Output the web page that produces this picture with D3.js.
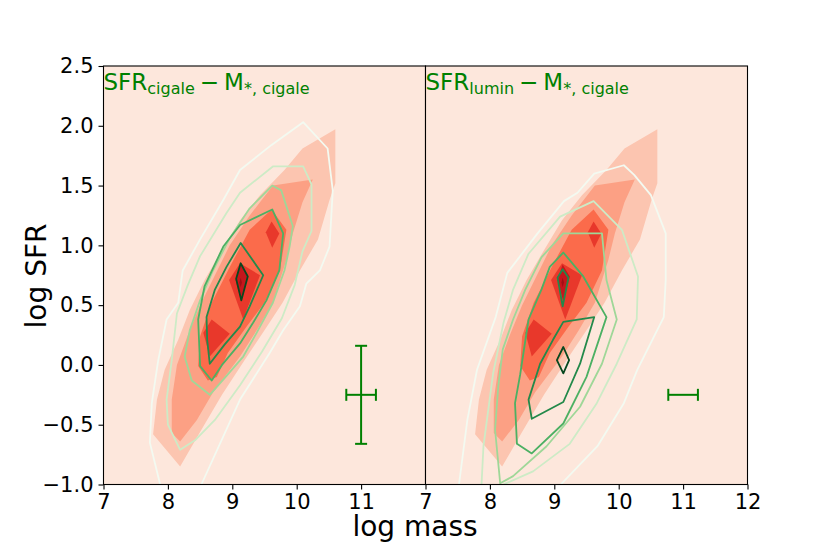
<!DOCTYPE html>
<html>
<head>
<meta charset="utf-8">
<script src="https://cdn.jsdelivr.net/npm/d3@7"></script>
<style>
  body { margin: 0; background: #fff; }
  text { font-family: "DejaVu Sans", sans-serif; }
</style>
</head>
<body>
<div id="chart"></div>
<script>
// Shared filled density (Reds), points are [log mass, log SFR]
var redL1 = [[10.60,1.97],[10.60,1.52],[10.51,1.38],[10.33,1.05],[10.05,0.79],[9.78,0.52],[9.50,0.29],[9.19,0.04],[8.84,-0.25],[8.50,-0.56],[8.19,-0.85],[7.77,-0.58],[7.83,-0.29],[7.95,-0.04],[8.16,0.21],[8.34,0.46],[8.57,0.71],[8.84,0.96],[9.12,1.21],[9.43,1.42],[9.81,1.63],[10.09,1.81]];
var redL2 = [[9.63,1.50],[10.25,1.55],[10.09,1.36],[9.94,1.10],[9.84,0.88],[9.63,0.52],[9.38,0.29],[9.12,0.07],[8.70,-0.23],[8.45,-0.46],[8.19,-0.64],[8.06,-0.57],[8.06,-0.29],[8.14,0.00],[8.31,0.25],[8.50,0.50],[8.73,0.75],[8.96,1.00],[9.27,1.25]];
var redL3 = [[9.61,1.30],[9.84,1.13],[9.74,0.79],[9.50,0.52],[9.22,0.32],[8.93,0.10],[8.76,-0.10],[8.62,-0.13],[8.47,-0.01],[8.50,0.24],[8.68,0.52],[8.96,0.82],[9.27,1.13]];
var redL4a = [[9.61,1.20],[9.73,1.10],[9.62,0.98],[9.52,1.11]];
var redL4b = [[8.95,0.71],[9.12,0.85],[9.43,0.75],[9.17,0.38]];
var redL4c = [[8.55,0.27],[8.68,0.38],[8.96,0.26],[8.65,0.07]];
var redL5 = [[9.05,0.71],[9.13,0.84],[9.24,0.74],[9.14,0.53]];
var redL6 = [[9.11,0.69],[9.13,0.73],[9.15,0.69],[9.13,0.65]];

// SFR cigale contours (Greens)
var cigG0 = [[7.88,-1.0],[7.72,-0.65],[7.75,-0.32],[7.85,0.04],[7.98,0.38],[8.16,0.52],[8.23,0.79],[8.50,1.05],[8.86,1.38],[9.12,1.63],[9.61,1.84],[10.10,2.03],[10.48,1.81],[10.56,1.46],[10.51,0.99],[10.36,0.79],[10.15,0.68],[10.05,0.49],[9.79,0.29],[9.58,0.10],[9.12,-0.29],[8.52,-1.0]];
var cigG1 = [[9.63,1.66],[10.10,1.66],[10.23,1.51],[10.23,1.12],[10.09,0.95],[9.97,0.67],[9.77,0.39],[9.46,0.11],[9.12,-0.17],[8.73,-0.46],[8.42,-0.63],[8.19,-0.71],[8.00,-0.50],[7.98,-0.29],[8.06,0.04],[8.14,0.43],[8.31,0.67],[8.50,0.91],[8.91,1.27],[9.12,1.44]];
var cigG2 = [[9.62,1.50],[9.76,1.46],[9.94,1.16],[9.89,0.99],[9.81,0.79],[9.63,0.52],[9.38,0.27],[9.17,0.07],[8.88,-0.11],[8.65,-0.25],[8.37,-0.13],[8.26,0.07],[8.34,0.29],[8.50,0.54],[8.70,0.79],[8.96,1.06],[9.27,1.31]];
var cigG3 = [[9.62,1.30],[9.79,1.10],[9.73,0.79],[9.53,0.54],[9.32,0.35],[9.12,0.18],[8.84,0.00],[8.68,-0.13],[8.50,-0.01],[8.47,0.38],[8.57,0.66],[8.86,0.99],[9.12,1.17]];
var cigG4 = [[9.13,1.02],[9.48,0.75],[9.27,0.49],[9.12,0.32],[8.88,0.17],[8.65,0.01],[8.61,0.21],[8.60,0.40],[8.73,0.63],[8.91,0.82]];
var cigG5 = [[9.13,0.85],[9.24,0.74],[9.14,0.54],[9.06,0.72]];

// SFR lumin contours (Greens)
var lumG0 = [[7.52,-1.0],[7.65,-0.46],[7.80,-0.04],[8.09,0.40],[8.27,0.77],[8.74,1.10],[9.15,1.37],[9.36,1.44],[9.62,1.60],[10.08,1.67],[10.24,1.59],[10.50,1.42],[10.73,1.10],[10.73,0.71],[10.70,0.40],[10.29,-0.04],[10.08,-0.32],[9.67,-0.68],[9.10,-1.0]];
var lumG1 = [[7.87,-1.0],[7.90,-0.68],[8.05,-0.07],[8.21,0.35],[8.36,0.63],[8.60,0.93],[9.09,1.24],[9.61,1.37],[10.05,1.13],[10.30,0.74],[10.28,0.38],[9.97,0.01],[9.66,-0.32],[9.24,-0.66],[8.67,-0.89],[8.21,-1.0]];
var lumG2 = [[9.14,1.10],[9.74,1.10],[9.81,0.71],[9.97,0.38],[9.74,0.01],[9.40,-0.35],[8.88,-0.68],[8.36,-0.93],[8.16,-0.99],[8.08,-0.54],[8.13,-0.18],[8.20,0.13],[8.36,0.38],[8.55,0.63],[8.80,0.90]];
var lumG3 = [[9.14,0.94],[9.45,0.74],[9.81,0.40],[9.50,-0.10],[9.14,-0.49],[8.65,-0.74],[8.42,-0.66],[8.39,-0.32],[8.47,-0.08],[8.60,0.38],[8.80,0.63],[8.93,0.82]];
var lumG4a = [[9.13,0.80],[9.22,0.73],[9.13,0.49],[9.05,0.73]];
var lumG4b = [[9.14,0.36],[9.62,0.40],[9.40,0.01],[9.14,-0.31],[8.65,-0.45],[8.60,-0.29],[8.78,0.01],[8.98,0.21]];
var lumG5 = [[9.14,0.15],[9.23,0.04],[9.14,-0.07],[9.04,0.04]];

// typical error bars [x, y, xerr, yerr]
var errCigale = [11.0, -0.25, 0.23, 0.41];
var errLumin = [11.0, -0.25, 0.23, 0.0];

var yTicks = [-1.0, -0.5, 0.0, 0.5, 1.0, 1.5, 2.0, 2.5];
var xTicksLeft = [7, 8, 9, 10, 11];
var xTicksRight = [7, 8, 9, 10, 11, 12];

// colours of the levels
var redColors = ["#fde7dc", "#fcc5b0", "#fca084", "#fb6b4b", "#e8382b", "#c5161c", "#a00f15"];
var greenColors = ["#f3faf1", "#cdebc6", "#9fd798", "#4cb063", "#23894a", "#07481f"];

// SVG area
var svgWidth = 830;
var svgHeight = 554;
var margin = { top: 66, left: 103.5 };
var panelWidth = 322;
var panelHeight = 418.5;

var svg = d3.select("#chart")
  .append("svg")
  .attr("width", svgWidth)
  .attr("height", svgHeight);

var xScale = d3.scaleLinear().domain([7, 12]).range([0, panelWidth]);
var yScale = d3.scaleLinear().domain([-1, 2.5]).range([panelHeight, 0]);

var lineGen = d3.line()
  .x(d => xScale(d[0]))
  .y(d => yScale(d[1]));

var reds = [[redL1, 1], [redL2, 2], [redL3, 3], [redL4a, 4], [redL4b, 4], [redL4c, 4], [redL5, 5], [redL6, 6]];

var panels = [
  { id: "cigale", left: margin.left, sub: "cigale", xTicks: xTicksLeft, showY: true, err: errCigale,
    greens: [[cigG0, 0, false], [cigG1, 1, true], [cigG2, 2, true], [cigG3, 3, true], [cigG4, 4, true], [cigG5, 5, true]] },
  { id: "lumin", left: margin.left + panelWidth, sub: "lumin", xTicks: xTicksRight, showY: false, err: errLumin,
    greens: [[lumG0, 0, false], [lumG1, 1, false], [lumG2, 2, true], [lumG3, 3, true], [lumG4a, 4, true], [lumG4b, 4, true], [lumG5, 5, true]] }
];

panels.forEach(function(p) {
  var g = svg.append("g").attr("transform", `translate(${p.left}, ${margin.top})`);

  g.append("clipPath").attr("id", "clip-" + p.id)
    .append("rect").attr("width", panelWidth).attr("height", panelHeight);

  var plot = g.append("g").attr("clip-path", `url(#clip-${p.id})`);

  // lowest filled level covers the whole panel
  plot.append("rect")
    .attr("width", panelWidth)
    .attr("height", panelHeight)
    .attr("fill", redColors[0]);

  plot.selectAll("path.red")
    .data(reds)
    .enter()
    .append("path")
    .attr("class", "red")
    .attr("d", d => lineGen(d[0]) + "Z")
    .attr("fill", d => redColors[d[1]]);

  plot.selectAll("path.green")
    .data(p.greens)
    .enter()
    .append("path")
    .attr("class", "green")
    .attr("d", d => lineGen(d[0]) + (d[2] ? "Z" : ""))
    .attr("fill", "none")
    .attr("stroke", d => greenColors[d[1]])
    .attr("stroke-width", 1.8)
    .attr("stroke-linejoin", "round");

  // error bar
  var e = p.err;
  var eb = g.append("g").attr("stroke", "green").attr("stroke-width", 2);
  var cx = xScale(e[0]), cy = yScale(e[1]);
  eb.append("line")
    .attr("x1", xScale(e[0] - e[2])).attr("x2", xScale(e[0] + e[2]))
    .attr("y1", cy).attr("y2", cy);
  [e[0] - e[2], e[0] + e[2]].forEach(function(v) {
    eb.append("line").attr("x1", xScale(v)).attr("x2", xScale(v)).attr("y1", cy - 6).attr("y2", cy + 6);
  });
  if (e[3] > 0) {
    eb.append("line")
      .attr("x1", cx).attr("x2", cx)
      .attr("y1", yScale(e[1] - e[3])).attr("y2", yScale(e[1] + e[3]));
    [e[1] - e[3], e[1] + e[3]].forEach(function(v) {
      eb.append("line").attr("x1", cx - 6).attr("x2", cx + 6).attr("y1", yScale(v)).attr("y2", yScale(v));
    });
  }

  // label inside the panel
  var title = g.append("text")
    .attr("x", 0)
    .attr("y", 24)
    .attr("fill", "green")
    .style("font-size", "23px");
  title.append("tspan").text("SFR");
  title.append("tspan").attr("dy", 3.5).style("font-size", "16px").text(p.sub);
  title.append("tspan").attr("dy", -3.5).attr("dx", 5).text("\u2212");
  title.append("tspan").attr("dx", 5).text("M");
  title.append("tspan").attr("dy", 3.5).style("font-size", "16px").text("*, cigale");

  // axes
  var bottomAxis = d3.axisBottom(xScale)
    .tickValues(p.xTicks)
    .tickFormat(d3.format("d"))
    .tickSize(5)
    .tickSizeOuter(0)
    .tickPadding(5);
  var xg = g.append("g")
    .attr("transform", `translate(0, ${panelHeight})`)
    .call(bottomAxis);
  xg.select(".domain").remove();
  xg.selectAll("text").attr("font-size", "21px").attr("font-family", "DejaVu Sans").attr("fill", "#000");
  xg.selectAll("line").attr("stroke-width", 1.1);

  if (p.showY) {
    var leftAxis = d3.axisLeft(yScale)
      .tickValues(yTicks)
      .tickFormat(d3.format(".1f"))
      .tickSize(5)
      .tickSizeOuter(0)
      .tickPadding(5);
    var yg = g.append("g").call(leftAxis);
    yg.select(".domain").remove();
    yg.selectAll("text").attr("font-size", "21px").attr("font-family", "DejaVu Sans").attr("fill", "#000");
    yg.selectAll("line").attr("stroke-width", 1.1);
  }

  // spines
  g.append("rect")
    .attr("width", panelWidth)
    .attr("height", panelHeight)
    .attr("fill", "none")
    .attr("stroke", "#000")
    .attr("stroke-width", 1.1);
});

// axis labels
svg.append("text")
  .attr("x", 415)
  .attr("y", 536)
  .attr("text-anchor", "middle")
  .style("font-size", "28px")
  .text("log mass");

svg.append("text")
  .attr("transform", "translate(45.5, 276) rotate(-90)")
  .attr("text-anchor", "middle")
  .style("font-size", "28px")
  .text("log SFR");
</script>
</body>
</html>
